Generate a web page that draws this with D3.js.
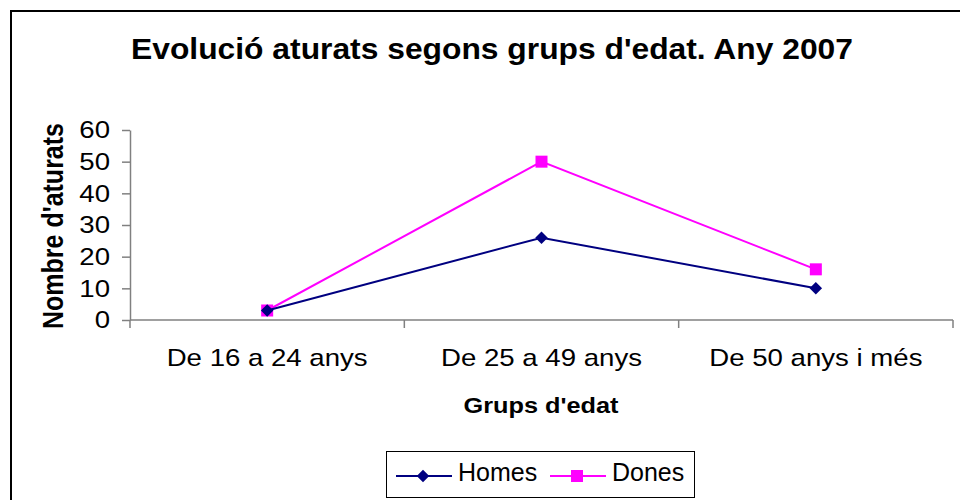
<!DOCTYPE html>
<html>
<head>
<meta charset="utf-8">
<script src="https://cdn.jsdelivr.net/npm/d3@7"></script>
<style>
  body { margin: 0; background: #fff; }
  text { font-family: "Liberation Sans", Arial, sans-serif; }
</style>
</head>
<body>
<div id="graphic"></div>
<script>
const categories = ["De 16 a 24 anys", "De 25 a 49 anys", "De 50 anys i més"]
const homes = [3, 26, 10]
const dones = [3, 50, 16]
const yTicks = [0, 10, 20, 30, 40, 50, 60]

// the original text is a bit wider than it is tall
const sx = 1.15

const margin = { top: 130, right: 7, bottom: 180, left: 130 },
    width = 960 - margin.left - margin.right,
    height = 500 - margin.top - margin.bottom;

const root = d3.select("#graphic")
    .append("svg")
    .attr("width", 960)
    .attr("height", 500)

// outer frame
root.append("rect")
    .attr("x", 11).attr("y", 11)
    .attr("width", 960).attr("height", 500)
    .attr("fill", "none")
    .attr("stroke", "#000")
    .attr("stroke-width", 2)

root.append("text")
    .attr("transform", `translate(492,59) scale(1.06,1)`)
    .attr("text-anchor", "middle")
    .attr("font-size", "30px")
    .attr("font-weight", "bold")
    .text("Evolució aturats segons grups d'edat. Any 2007")

const svg = root.append("g")
    .attr("transform", `translate(${margin.left},${margin.top})`);

const x = d3.scaleBand()
    .domain(categories)
    .range([0, width])

const y = d3.scaleLinear()
    .domain([0, 60])
    .range([height, 0]);

// y axis
const yAxis = svg.append("g")
    .call(d3.axisLeft(y).tickValues(yTicks).tickSize(8).tickPadding(12).tickSizeOuter(0))
yAxis.select(".domain").attr("stroke", "#808080").attr("stroke-width", 1.5)
yAxis.selectAll(".tick line").attr("stroke", "#808080").attr("stroke-width", 1.5)
yAxis.selectAll("text")
    .attr("font-size", "24px")
    .attr("fill", "#000")
    .attr("font-family", "Liberation Sans, Arial, sans-serif")
    .attr("x", -20 / sx)
    .attr("transform", `scale(${sx},1)`)

// x axis with ticks on band boundaries
const xAxis = svg.append("g")
    .attr("transform", `translate(0, ${height})`)
xAxis.append("line")
    .attr("x1", 0).attr("x2", width)
    .attr("stroke", "#808080").attr("stroke-width", 1.5)
const bounds = categories.map(c => x(c)).concat([width])
xAxis.selectAll(".xt")
    .data(bounds)
    .join("line")
    .attr("x1", d => d).attr("x2", d => d)
    .attr("y1", 0).attr("y2", 8)
    .attr("stroke", "#808080").attr("stroke-width", 1.5)
xAxis.selectAll(".xl")
    .data(categories)
    .join("text")
    .attr("transform", d => `translate(${x(d) + x.bandwidth() / 2},46) scale(${sx},1)`)
    .attr("text-anchor", "middle")
    .attr("font-size", "24px")
    .text(d => d)

// axis titles
root.append("text")
    .attr("transform", `translate(541,413) scale(${sx},1)`)
    .attr("text-anchor", "middle")
    .attr("font-size", "22px")
    .attr("font-weight", "bold")
    .text("Grups d'edat")

root.append("text")
    .attr("transform", `translate(63,226) scale(${sx},1) rotate(-90)`)
    .attr("text-anchor", "middle")
    .attr("font-size", "25px")
    .attr("font-weight", "bold")
    .text("Nombre d'aturats")

const cx = d => x(d) + x.bandwidth() / 2
const line = d3.line()
    .x((d, i) => cx(categories[i]))
    .y(d => y(d))

// Dones
svg.append("path")
    .datum(dones)
    .attr("d", line)
    .attr("fill", "none")
    .attr("stroke", "#FF00FF")
    .attr("stroke-width", 2)
svg.selectAll(".dm")
    .data(dones)
    .join("rect")
    .attr("x", (d, i) => cx(categories[i]) - 6)
    .attr("y", d => y(d) - 6)
    .attr("width", 12).attr("height", 12)
    .attr("fill", "#FF00FF")

// Homes
svg.append("path")
    .datum(homes)
    .attr("d", line)
    .attr("fill", "none")
    .attr("stroke", "#000080")
    .attr("stroke-width", 2)
svg.selectAll(".hm")
    .data(homes)
    .join("path")
    .attr("d", d3.symbol(d3.symbolDiamond2, 100))
    .attr("transform", (d, i) => `translate(${cx(categories[i])},${y(d)})`)
    .attr("fill", "#000080")

// legend
const legend = root.append("g")
legend.append("rect")
    .attr("x", 386.5).attr("y", 451.5)
    .attr("width", 308).attr("height", 46)
    .attr("fill", "#fff")
    .attr("stroke", "#000").attr("stroke-width", 1)

const legendItems = [
    { name: "Homes", color: "#000080", lx: 396, tx: 458 },
    { name: "Dones", color: "#FF00FF", lx: 550, tx: 612 }
]
legendItems.forEach(item => {
    legend.append("line")
        .attr("x1", item.lx).attr("x2", item.lx + 56)
        .attr("y1", 476).attr("y2", 476)
        .attr("stroke", item.color).attr("stroke-width", 2)
    if (item.name === "Homes") {
        legend.append("path")
            .attr("d", d3.symbol(d3.symbolDiamond2, 100))
            .attr("transform", `translate(${item.lx + 27},476)`)
            .attr("fill", item.color)
    } else {
        legend.append("rect")
            .attr("x", item.lx + 21).attr("y", 470)
            .attr("width", 12).attr("height", 12)
            .attr("fill", item.color)
    }
    legend.append("text")
        .attr("transform", `translate(${item.tx},481)`)
        .attr("font-size", "25px")
        .text(item.name)
})
</script>
</body>
</html>
